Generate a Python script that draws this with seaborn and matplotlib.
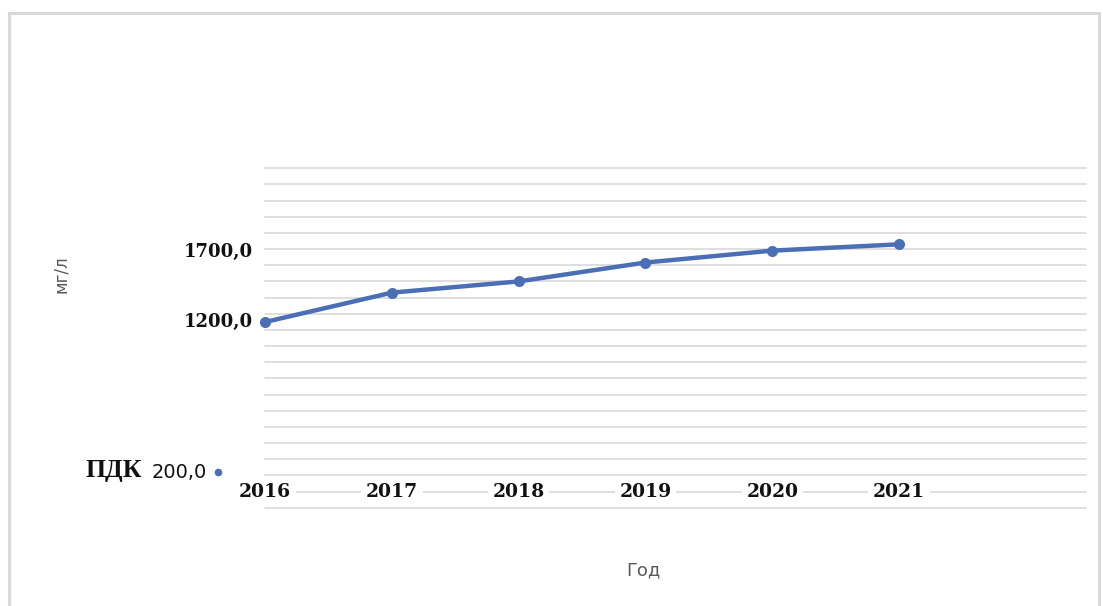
import numpy as np
import pandas as pd
import matplotlib
matplotlib.use("Agg")
import matplotlib.pyplot as plt
from matplotlib.patches import Rectangle
from matplotlib.lines import Line2D
import seaborn as sns

# ---- data ----
years = [2016, 2017, 2018, 2019, 2020, 2021]
values = [1200.0, 1410.0, 1490.0, 1625.0, 1710.0, 1755.0]
year_labels = ["2016", "2017", "2018", "2019", "2020", "2021"]
y_label_values = [1200.0, 1700.0]
y_label_texts = ["1200,0", "1700,0"]
pdk_name = "ПДК"
pdk_text = "200,0"
x_title = "Год"
y_title = "мг/л"

# ---- style ----
sns.set_theme(style="white")
plt.rcParams["font.family"] = ["DejaVu Sans"]

BLUE = "#4a6fb4"
GRID = "#d9d9d9"
GREY_TXT = "#595959"

W, H = 1103, 606
fig = plt.figure(figsize=(W / 100, H / 100), dpi=100)
fig.patch.set_facecolor("white")

left_px, right_px, top_px, bot_px = 265, 1086, 168.3, 507.7
ax = fig.add_axes([left_px / W, 1 - bot_px / H,
                   (right_px - left_px) / W, (bot_px - top_px) / H])
ax.set_facecolor("none")

df = pd.DataFrame({"year": years, "value": values})
sns.lineplot(data=df, x="year", y="value", ax=ax, color=BLUE, linewidth=3.2,
             marker="o", markersize=8, markeredgewidth=0, clip_on=False, zorder=5)

ylo, yhi = -126.0, 2298.0
ax.set_ylim(ylo, yhi)
ax.set_xlim(2016, 2016 + (right_px - left_px) / 126.8)

# horizontal grid lines
ax.set_yticks(np.linspace(ylo, yhi, 22))
ax.set_xticks([])
ax.yaxis.grid(True, color=GRID, linewidth=1.2)
ax.xaxis.grid(False)
for gl in ax.get_ygridlines():
    gl.set_clip_on(False)
ax.tick_params(left=False, bottom=False, labelleft=False, labelbottom=False)
for s in ax.spines.values():
    s.set_visible(False)
ax.set_xlabel("")
ax.set_ylabel("")

# y value labels
for v, t in zip(y_label_values, y_label_texts):
    ax.annotate(t, xy=(0, v), xycoords=ax.get_yaxis_transform(),
                xytext=(-9, 0), textcoords="offset points",
                ha="right", va="center", fontsize=13, fontweight="bold",
                family="DejaVu Serif", color="#111111")

# year labels
for yr, lab in zip(years, year_labels):
    ax.text(yr, (bot_px - 492) / (bot_px - top_px), lab,
            transform=ax.get_xaxis_transform(), ha="center", va="center",
            fontsize=13.5, fontweight="bold", family="DejaVu Serif", color="#111111",
            bbox=dict(boxstyle="square,pad=0.25", fc="white", ec="none"), zorder=6)

# ПДК label
fig.text(85 / W, 1 - 471 / H, pdk_name, ha="left", va="center",
         fontsize=18.5, fontweight="bold", family="Liberation Serif", color="#111111")
fig.text(152 / W, 1 - 472 / H, pdk_text, ha="left", va="center",
         fontsize=14, family="DejaVu Sans", color="#111111")
fig.add_artist(Line2D([218 / W], [1 - 472 / H], marker="o", markersize=5.5,
                      color=BLUE, markeredgewidth=0, transform=fig.transFigure))

# axis titles
fig.text(643 / W, 1 - 570 / H, x_title, ha="center", va="center",
         fontsize=13, color=GREY_TXT)
fig.text(61 / W, 1 - 274 / H, y_title, ha="center", va="center",
         fontsize=12, color=GREY_TXT, rotation=90)

# outer border
fig.add_artist(Rectangle((9 / W, -0.02), (1099 - 9) / W, 1 - 13 / H + 0.02,
                         fill=False, ec=GRID, lw=2.2, transform=fig.transFigure))

fig.savefig("out.png", dpi=100, facecolor="white")
